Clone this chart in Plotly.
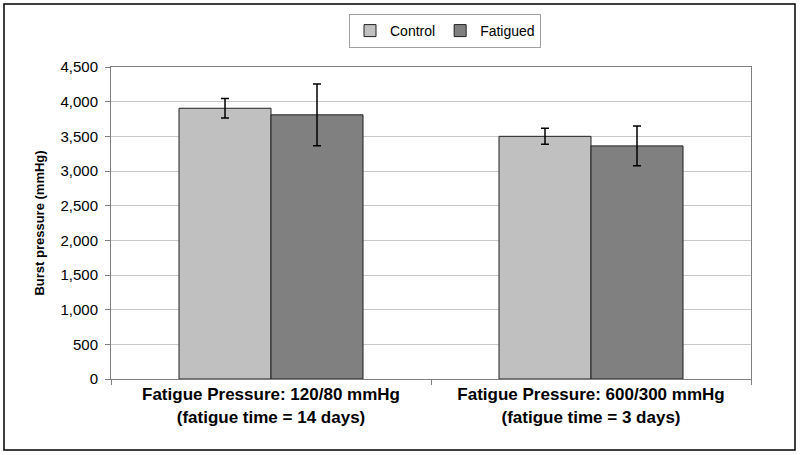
import plotly.graph_objects as go

categories = ["Fatigue Pressure: 120/80 mmHg<br>(fatigue time = 14 days)",
              "Fatigue Pressure: 600/300 mmHg<br>(fatigue time = 3 days)"]
control = [3905, 3500]
control_err = [140, 115]
fatigued = [3810, 3362]
fatigued_err = [445, 288]
yticks = [0, 500, 1000, 1500, 2000, 2500, 3000, 3500, 4000, 4500]

L, R, T, B = 111, 751, 67, 379
PW, PH = R - L, B - T

fig = go.Figure()
fig.add_trace(go.Bar(name="Control", x=categories, y=control,
                     marker=dict(color="#c0c0c0", line=dict(color="#202020", width=1)),
                     error_y=dict(type="data", array=control_err, color="black", thickness=1.5, width=4)))
fig.add_trace(go.Bar(name="Fatigued", x=categories, y=fatigued,
                     marker=dict(color="#808080", line=dict(color="#202020", width=1)),
                     error_y=dict(type="data", array=fatigued_err, color="black", thickness=1.5, width=4)))

fig.update_layout(
    width=800, height=455,
    margin=dict(l=L, r=800 - R, t=T, b=455 - B, autoexpand=False),
    paper_bgcolor="white", plot_bgcolor="white",
    barmode="group", bargap=0.425, bargroupgap=0,
    font=dict(family="Liberation Sans, Arial, sans-serif", size=14, color="black"),
    legend=dict(orientation="h", x=(445 - L) / PW, xanchor="center", y=(B - 14) / PH, yanchor="top",
                bordercolor="#a0a0a0", borderwidth=1, font=dict(size=14),
                itemwidth=30, traceorder="normal"),
    xaxis=dict(type="category", showline=True, linecolor="#808080", linewidth=1,
               ticks="outside", tickson="boundaries", ticklen=5, tickcolor="#808080",
               tickfont=dict(size=17, family="Liberation Sans, Arial, sans-serif"),
               mirror=True),
    yaxis=dict(range=[0, 4500], tickvals=yticks, tickformat=",d",
               showgrid=True, gridcolor="#c8c8c8", gridwidth=1,
               showline=True, linecolor="#808080", linewidth=1, mirror=True,
               ticks="outside", ticklen=5, tickcolor="#808080",
               tickfont=dict(size=15), ticklabelstandoff=4,
               title=dict(text="<b>Burst pressure (mmHg)</b>", font=dict(size=13), standoff=12)),
    shapes=[dict(type="rect", xref="paper", yref="paper",
                 x0=(4 - L) / PW, x1=(795 - L) / PW,
                 y0=(B - 450) / PH, y1=(B - 4) / PH,
                 line=dict(color="black", width=1.5), fillcolor="rgba(0,0,0,0)", layer="below")],
)
fig.update_xaxes(ticktext=["<b>" + c.replace("<br>", "</b><br><b>") + "</b>" for c in categories],
                 tickvals=categories)

fig.write_html("out.html", config={"displayModeBar": False},
               post_script="document.body.style.margin='0';")
